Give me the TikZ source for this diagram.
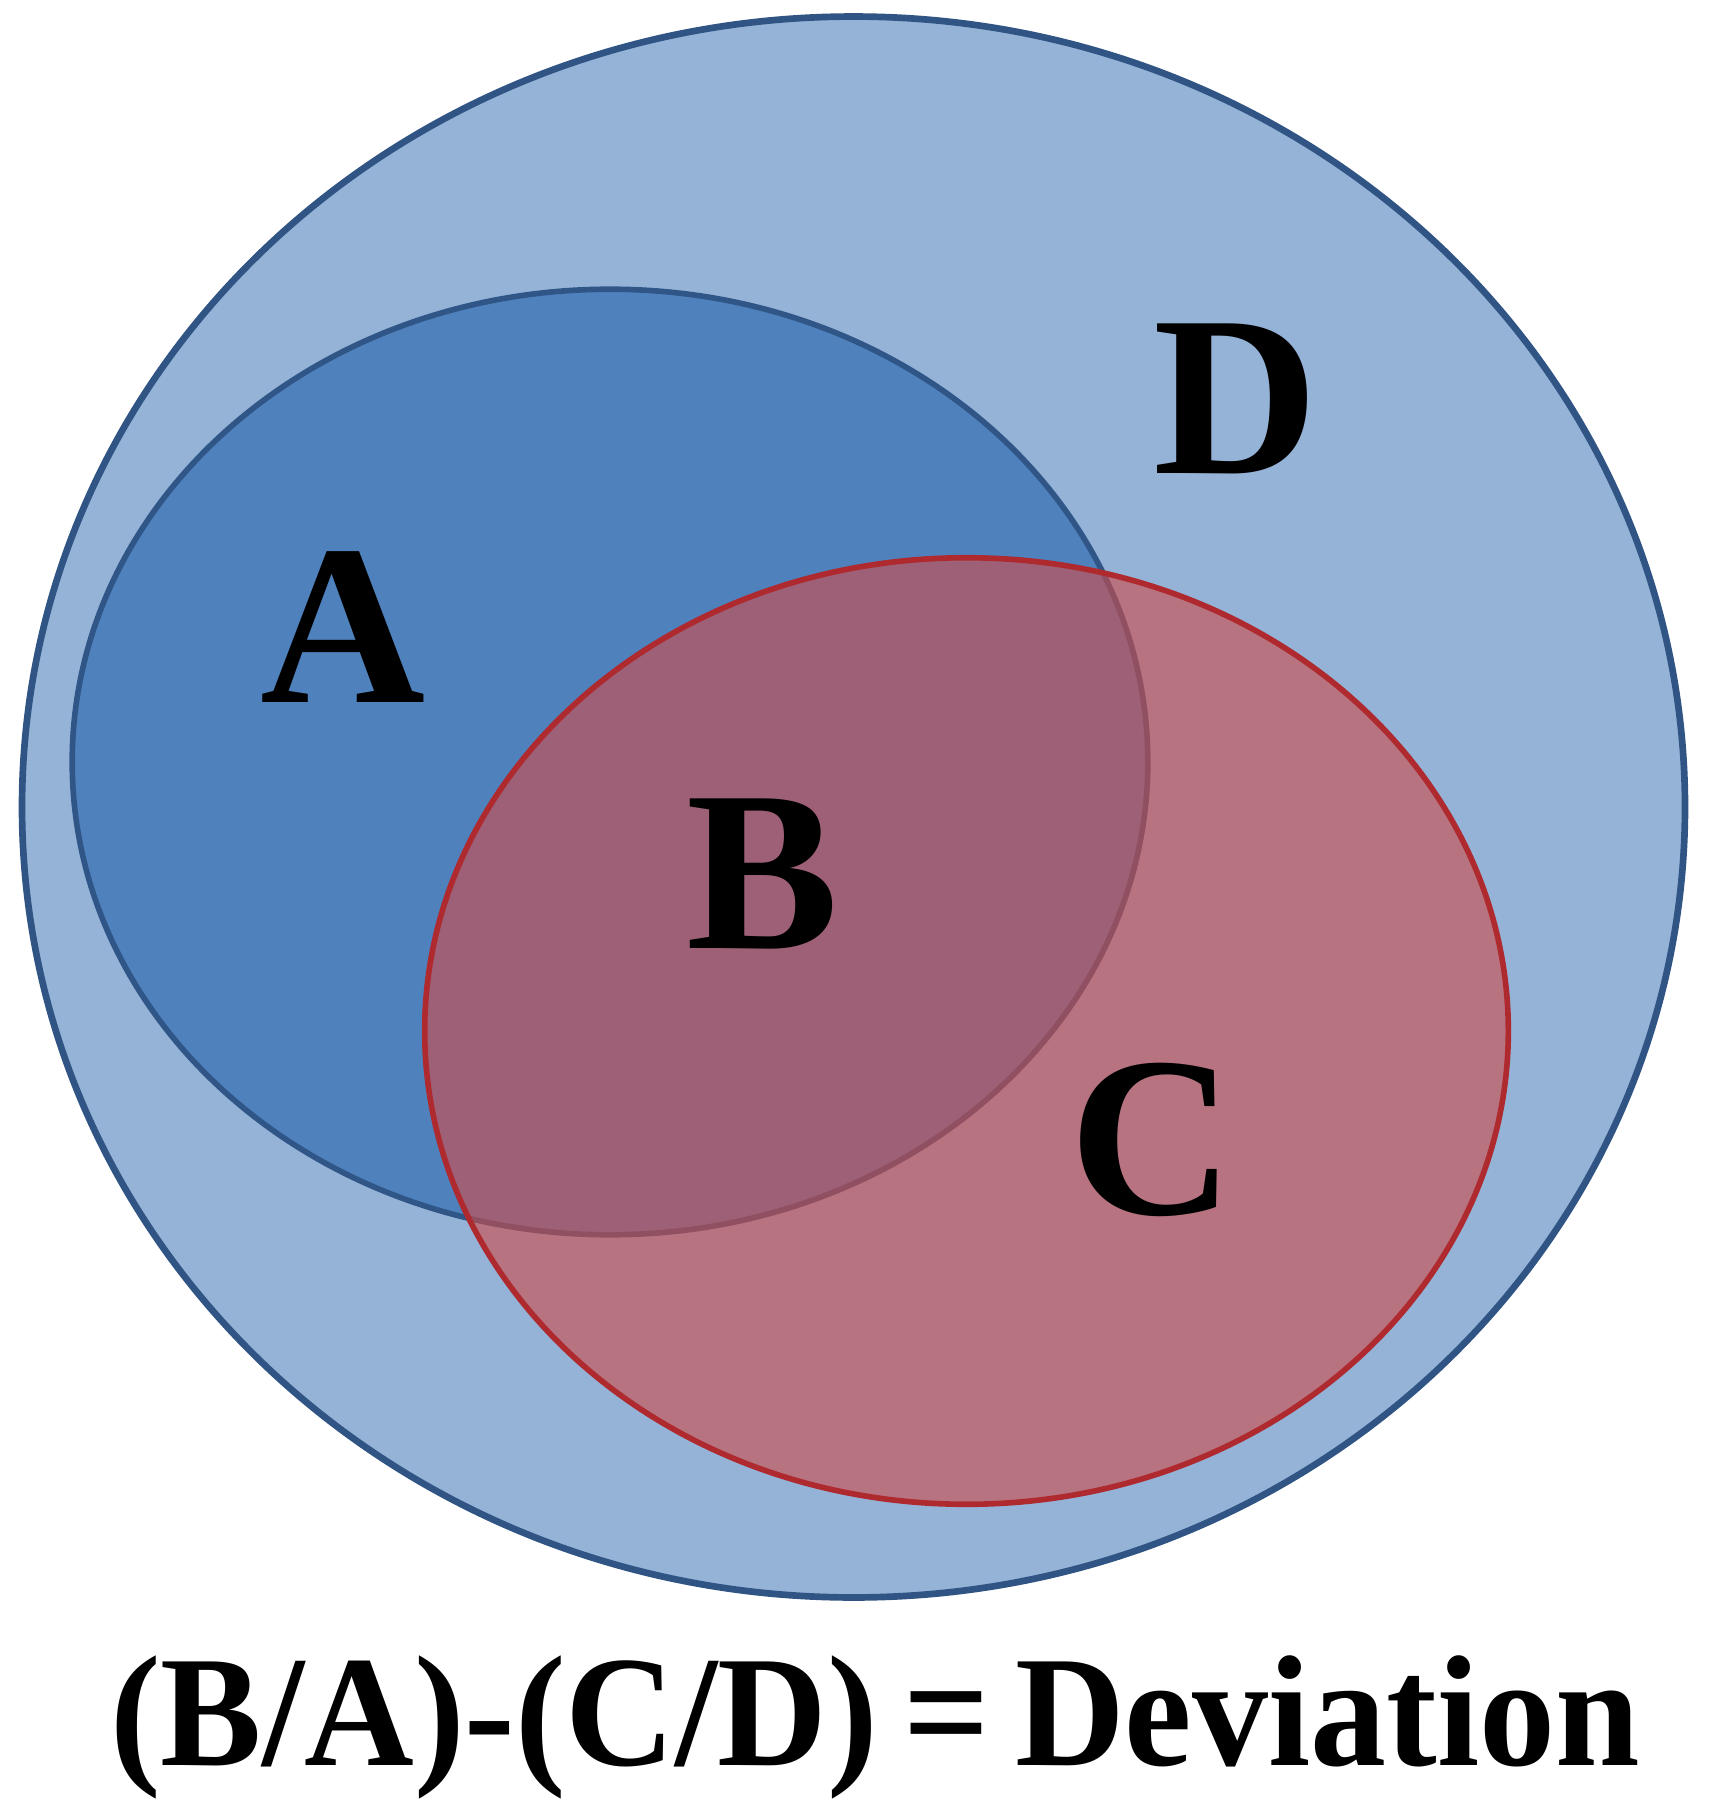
\documentclass[tikz,border=0pt]{standalone}
\usepackage{fontspec}
\setmainfont{Liberation Serif}
\usetikzlibrary{shapes.geometric}
\definecolor{dfill}{RGB}{149,179,215}
\definecolor{dline}{RGB}{48,84,132}
\definecolor{afill}{RGB}{79,129,189}
\definecolor{aline}{RGB}{48,86,136}
\definecolor{cfill}{RGB}{205,77,75}
\definecolor{cline}{RGB}{175,42,46}
\tikzset{
  setshape/.style={ellipse, inner sep=0pt, outer sep=0pt},
  setlabel/.style={anchor=base, inner sep=0pt, font=\bfseries\fontsize{65}{70}\selectfont},
  formula/.style={anchor=base, inner sep=0pt, xscale=0.96, font=\bfseries\fontsize{45}{50}\selectfont}
}
\begin{document}
\begin{tikzpicture}[x=0.01cm, y=-0.01cm]
\useasboundingbox (0,0) rectangle (1709,1800);
\fill[white] (0,0) rectangle (1709,1800);
% D
\node[setshape, draw=dline, fill=dfill, line width=1.9pt, minimum width=16.62cm, minimum height=15.8cm] (setD) at (853.5,807) {};
% A
\node[setshape, draw=aline, fill=afill, line width=1.6pt, minimum width=10.75cm, minimum height=9.45cm] (setA) at (610,762) {};
% C
\node[setshape, fill=cfill, fill opacity=0.62, minimum width=10.83cm, minimum height=9.46cm] (setC) at (966.5,1031) {};
\node[setshape, draw=cline, line width=1.6pt, minimum width=10.83cm, minimum height=9.46cm] (setCline) at (966.5,1031) {};
% labels
\node[setlabel] (labA) at (343,702) {A};
\node[setlabel] (labB) at (763,948) {B};
\node[setlabel] (labC) at (1152,1214) {C};
\node[setlabel] (labD) at (1236,473) {D};
\node[formula] (eq) at (875,1765) {(B/A)-(C/D)\,=\,Deviation};
\end{tikzpicture}
\end{document}
